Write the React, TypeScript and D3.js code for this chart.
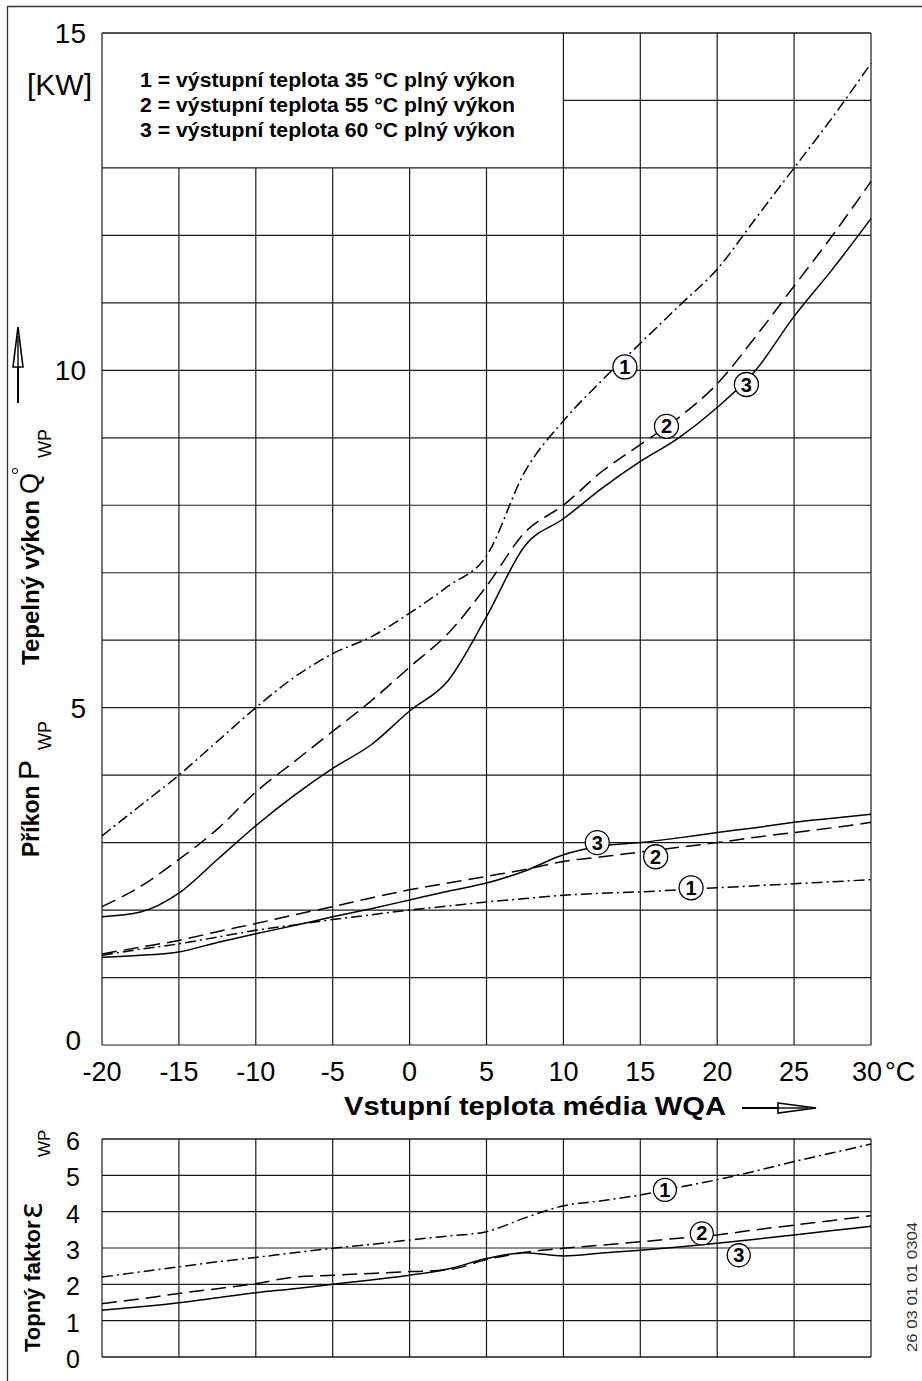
import * as d3 from 'd3';

// vstupni teplota media WQA (°C)
const temps = [-20, -17.5, -15, -12.5, -10, -7.5, -5, -2.5, 0, 2.5, 5, 7.5, 10, 12.5, 15, 17.5, 20, 22.5, 25, 27.5, 30];

// tepelny vykon Q (kW)
const q35 = [3.1, 3.55, 4.0, 4.5, 5.0, 5.45, 5.8, 6.05, 6.4, 6.8, 7.25, 8.5, 9.25, 9.85, 10.4, 10.95, 11.5, 12.25, 13.0, 13.75, 14.55];
const q55 = [2.05, 2.35, 2.75, 3.2, 3.75, 4.2, 4.65, 5.1, 5.6, 6.1, 6.8, 7.6, 8.0, 8.5, 8.9, 9.3, 9.8, 10.5, 11.25, 12.0, 12.8];
const q60 = [1.9, 1.97, 2.25, 2.75, 3.25, 3.7, 4.1, 4.45, 4.95, 5.4, 6.35, 7.4, 7.8, 8.25, 8.65, 9.0, 9.45, 10.0, 10.8, 11.5, 12.25];

// prikon P (kW)
const p35 = [1.33, 1.42, 1.5, 1.6, 1.7, 1.78, 1.86, 1.93, 2.0, 2.06, 2.12, 2.17, 2.22, 2.25, 2.27, 2.3, 2.33, 2.36, 2.39, 2.42, 2.45];
const p55 = [1.35, 1.45, 1.55, 1.68, 1.8, 1.93, 2.05, 2.18, 2.3, 2.4, 2.5, 2.6, 2.72, 2.79, 2.86, 2.93, 3.0, 3.08, 3.15, 3.22, 3.3];
const p60 = [1.3, 1.33, 1.38, 1.52, 1.65, 1.77, 1.9, 2.02, 2.15, 2.28, 2.4, 2.58, 2.82, 2.95, 3.0, 3.07, 3.15, 3.22, 3.3, 3.36, 3.42];

// topny faktor
const e35 = [2.2, 2.34, 2.48, 2.62, 2.74, 2.87, 2.99, 3.1, 3.22, 3.33, 3.45, 3.83, 4.16, 4.3, 4.46, 4.67, 4.88, 5.12, 5.38, 5.62, 5.86];
const e55 = [1.47, 1.6, 1.75, 1.88, 2.02, 2.2, 2.25, 2.3, 2.35, 2.4, 2.68, 2.88, 2.99, 3.08, 3.17, 3.27, 3.36, 3.5, 3.63, 3.76, 3.89];
const e60 = [1.29, 1.38, 1.49, 1.63, 1.77, 1.88, 2.0, 2.12, 2.25, 2.42, 2.71, 2.87, 2.78, 2.86, 2.94, 3.03, 3.13, 3.24, 3.36, 3.48, 3.6];

const xTicks = [-20, -15, -10, -5, 0, 5, 10, 15, 20, 25, 30];
const qTicks = [0, 5, 10, 15];
const eTicks = [0, 1, 2, 3, 4, 5, 6];

const legendLines = [
  '1 = výstupní teplota 35 °C plný výkon',
  '2 = výstupní teplota 55 °C plný výkon',
  '3 = výstupní teplota 60 °C plný výkon',
];

// cislovane krouzky u krivek
const marksQ = [{ n: '1', t: 14, v: 10.05 }, { n: '2', t: 16.7, v: 9.17 }, { n: '3', t: 21.9, v: 9.79 }];
const marksP = [{ n: '3', t: 12.2, v: 3.0 }, { n: '2', t: 16, v: 2.79 }, { n: '1', t: 18.3, v: 2.33 }];
const marksE = [{ n: '1', t: 16.6, v: 4.6 }, { n: '2', t: 19, v: 3.4 }, { n: '3', t: 21.4, v: 2.8 }];

const FONT = '"Liberation Sans", Arial, sans-serif';
const DASH = '15 7';
const DASHDOT = '11 4 2 4';

const App = () => {
  const x = d3.scaleLinear().domain([-20, 30]).range([102, 871]);
  const yQ = d3.scaleLinear().domain([0, 15]).range([1045, 33]);
  const yE = d3.scaleLinear().domain([0, 6]).range([1357, 1139]);

  const mkLine = (y: d3.ScaleLinear<number, number>) =>
    d3.line<number>().x((_, i) => x(temps[i])).y((d) => y(d)).curve(d3.curveMonotoneX);
  const lineQ = mkLine(yQ);
  const lineE = mkLine(yE);

  const mainSeries = [
    { d: q35, dash: DASHDOT }, { d: q55, dash: DASH }, { d: q60, dash: undefined },
    { d: p35, dash: DASHDOT }, { d: p55, dash: DASH }, { d: p60, dash: undefined },
  ];
  const copSeries = [{ d: e35, dash: DASHDOT }, { d: e55, dash: DASH }, { d: e60, dash: undefined }];

  const grid = '#1a1a1a';
  const rot = (px: number, py: number) => `translate(${px},${py}) rotate(-90)`;

  const circle = (m: { n: string; t: number; v: number }, y: d3.ScaleLinear<number, number>, r: number, k: string) => (
    <g key={k}>
      <circle cx={x(m.t)} cy={y(m.v)} r={r} fill="white" stroke="black" strokeWidth={1.3} />
      <text x={x(m.t)} y={y(m.v) + 7} textAnchor="middle" fontSize={20} fontWeight="bold" fontFamily={FONT}>{m.n}</text>
    </g>
  );

  return (
    <svg width={922} height={1381} style={{ position: 'absolute', left: 0, top: 0, display: 'block', background: 'white' }}>
      {/* ramecek */}
      <path d="M7.5,1381 V6.5 H922" fill="none" stroke="#333" strokeWidth={1.3} />

      {/* mrizka hlavniho grafu */}
      {d3.range(0, 14).map((v) => (
        <line key={'h' + v} x1={x(-20)} x2={x(30)} y1={yQ(v)} y2={yQ(v)} stroke={grid} strokeWidth={1.2} />
      ))}
      <line x1={x(10)} x2={x(30)} y1={yQ(14)} y2={yQ(14)} stroke={grid} strokeWidth={1.2} />
      <line x1={x(-20)} x2={x(30)} y1={yQ(15)} y2={yQ(15)} stroke={grid} strokeWidth={1.3} />
      {xTicks.map((t) => (
        <line key={'v' + t} x1={x(t)} x2={x(t)} y1={t > -20 && t < 10 ? yQ(13) : yQ(15)} y2={yQ(0)} stroke={grid} strokeWidth={1.2} />
      ))}

      {/* krivky Q a P */}
      {mainSeries.map((s, i) => (
        <path key={'m' + i} d={lineQ(s.d) || ''} fill="none" stroke="black" strokeWidth={1.5} strokeDasharray={s.dash} />
      ))}
      {marksQ.map((m, i) => circle(m, yQ, 12, 'cq' + i))}
      {marksP.map((m, i) => circle(m, yQ, 12, 'cp' + i))}

      {/* legenda */}
      {legendLines.map((s, i) => (
        <text key={'l' + i} x={140} y={87 + i * 25} fontSize={20} fontWeight="bold" fontFamily={FONT}
          textLength={375} lengthAdjust="spacingAndGlyphs">{s}</text>
      ))}

      {/* osa y hlavni */}
      {qTicks.map((v) => (
        <text key={'qt' + v} x={v === 0 ? 81 : 86} y={(v === 0 ? yQ(v) - 5 : yQ(v)) + 10} textAnchor="end" fontSize={28} fontFamily={FONT}>{v}</text>
      ))}
      <text x={92} y={95} textAnchor="end" fontSize={30} fontFamily={FONT}>[KW]</text>

      {/* osa x */}
      {xTicks.filter((t) => t < 30).map((t) => (
        <text key={'xt' + t} x={x(t)} y={1081} textAnchor="middle" fontSize={27} fontFamily={FONT}>{t}</text>
      ))}
      <text x={882} y={1081} textAnchor="end" fontSize={27} fontFamily={FONT}>30</text>
      <text x={885} y={1081} fontSize={27} fontFamily={FONT}>°C</text>
      <text x={344} y={1115} fontSize={26} fontWeight="bold" fontFamily={FONT} textLength={382} lengthAdjust="spacingAndGlyphs">Vstupní teplota média WQA</text>
      <line x1={742} x2={812} y1={1108} y2={1108} stroke="black" strokeWidth={2.2} />
      <polygon points="778,1103 816,1108 778,1113" fill="white" stroke="black" strokeWidth={1.6} />
      <line x1={778} x2={808} y1={1108} y2={1108} stroke="black" strokeWidth={1.4} />

      {/* popis osy y */}
      <text transform={rot(39, 857)} fontSize={23} fontWeight="bold" fontFamily={FONT}>Příkon</text>
      <text transform={rot(39, 780)} fontSize={30} fontFamily={FONT}>P</text>
      <text transform={rot(51, 750)} fontSize={18} fontFamily={FONT}>WP</text>
      <text transform={rot(39, 665)} fontSize={24} fontWeight="bold" fontFamily={FONT}>Tepelný výkon</text>
      <text transform={rot(39, 494)} fontSize={27} fontFamily={FONT}>Q</text>
      <circle cx={15} cy={471} r={2.6} fill="none" stroke="black" strokeWidth={1} />
      <text transform={rot(51, 458)} fontSize={18} fontFamily={FONT}>WP</text>
      <line x1={18} x2={18} y1={334} y2={403} stroke="black" strokeWidth={2} />
      <polygon points="18,327 13,367 23,367" fill="white" stroke="black" strokeWidth={1.6} />
      <line x1={18} x2={18} y1={336} y2={367} stroke="black" strokeWidth={1.4} />

      {/* spodni graf - topny faktor */}
      {eTicks.map((v) => (
        <line key={'eh' + v} x1={x(-20)} x2={x(30)} y1={yE(v)} y2={yE(v)} stroke={grid} strokeWidth={v === 0 || v === 6 ? 1.4 : 1.1} />
      ))}
      {xTicks.map((t) => (
        <line key={'ev' + t} x1={x(t)} x2={x(t)} y1={yE(6)} y2={yE(0)} stroke={grid} strokeWidth={1.2} />
      ))}
      {copSeries.map((s, i) => (
        <path key={'e' + i} d={lineE(s.d) || ''} fill="none" stroke="black" strokeWidth={1.5} strokeDasharray={s.dash} />
      ))}
      {marksE.map((m, i) => circle(m, yE, 11.5, 'ce' + i))}
      {eTicks.map((v) => (
        <text key={'et' + v} x={80} y={yE(v) + 11} textAnchor="end" fontSize={25} fontFamily={FONT}>{v}</text>
      ))}
      <text transform={rot(40, 1352)} fontSize={22} fontWeight="bold" fontFamily={FONT}>Topný faktor</text>
      <text transform={rot(42, 1219)} fontSize={32} fontFamily={'"DejaVu Sans", sans-serif'}>ε</text>
      <text transform={rot(50, 1157)} fontSize={17} fontFamily={FONT}>WP</text>

      <text transform={rot(917, 1352)} fontSize={14} fill="#333" fontFamily={FONT} textLength={130} lengthAdjust="spacingAndGlyphs">26 03 01 01 0304</text>
    </svg>
  );
};

export default App;
